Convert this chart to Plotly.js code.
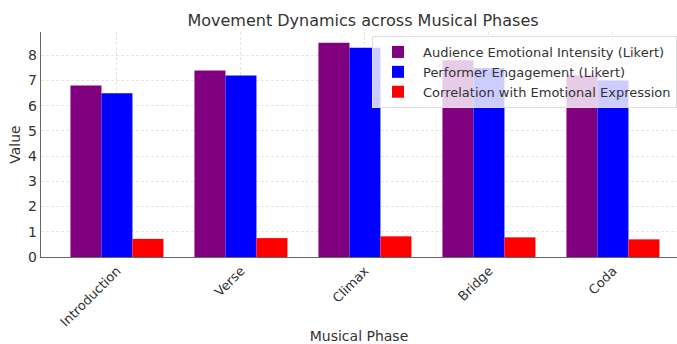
<!DOCTYPE html>
<html>
<head>
<meta charset="utf-8">
<script src="https://cdn.plot.ly/plotly-3.0.1.min.js"></script>
<style>html,body{margin:0;padding:0;background:#fff}#chart{width:677px;height:344px}</style>
</head>
<body>
<div id="chart"></div>
<script>
const phases = ["Introduction", "Verse", "Climax", "Bridge", "Coda"];
const audienceIntensity = [6.8, 7.4, 8.5, 7.8, 7.2];
const performerEngagement = [6.5, 7.2, 8.3, 7.5, 7.0];
const correlation = [0.72, 0.75, 0.82, 0.78, 0.70];
const seriesNames = ["Audience Emotional Intensity (Likert)", "Performer Engagement (Likert)", "Correlation with Emotional Expression"];
const yTicks = [0, 1, 2, 3, 4, 5, 6, 7, 8];

const idx = phases.map((_, i) => i);
const w = 0.25;
function bar(vals, offset, name, color) {
  return {
    type: "bar", x: idx.map(i => i + offset), y: vals, width: w, name: name,
    marker: {color: color, line: {width: 0}}, hoverinfo: "skip"
  };
}
const data = [
  bar(audienceIntensity, -w, seriesNames[0], "#800080"),
  bar(performerEngagement, 0, seriesNames[1], "#0000ff"),
  bar(correlation, w, seriesNames[2], "#ff0000")
];
const plotH = 344 - 32 - 86.5;
const layout = {
  width: 677, height: 344,
  margin: {l: 41, r: 0, t: 32, b: 86.5, autoexpand: false},
  paper_bgcolor: "#fff", plot_bgcolor: "#fff",
  font: {family: "DejaVu Sans, sans-serif", color: "#333", size: 13},
  title: {text: "Movement Dynamics across Musical Phases", x: (363-41)/636, xref: "paper", xanchor: "center",
          y: 1 - 20/344, yanchor: "middle", font: {size: 16, color: "#333"}},
  barmode: "overlay",
  showlegend: true,
  legend: {x: (372-41)/636, xanchor: "left", y: 1 - 4/plotH, yanchor: "top",
           bgcolor: "rgba(255,255,255,0.8)", bordercolor: "#ddd", borderwidth: 1,
           font: {size: 13, color: "#333"}, tracegroupgap: 0, itemwidth: 40},
  xaxis: {
    range: [-0.6125, -0.6125 + 636/124],
    tickmode: "array", tickvals: idx, ticktext: phases, tickangle: -45,
    showgrid: true, gridcolor: "#e6e6e6", griddash: "3px,2px", gridwidth: 1,
    showline: true, linecolor: "#666", linewidth: 1.2, zeroline: false,
    ticks: "", tickfont: {size: 13, color: "#333"},
    title: {text: "Musical Phase", font: {size: 14, color: "#333"}, standoff: 8}
  },
  yaxis: {
    range: [0, 8.925],
    tickmode: "array", tickvals: yTicks, ticktext: yTicks.map(String),
    showgrid: true, gridcolor: "#e6e6e6", griddash: "3px,2px", gridwidth: 1,
    showline: true, linecolor: "#666", linewidth: 1.2, zeroline: false,
    ticks: "", tickfont: {size: 14, color: "#333"},
    title: {text: "Value", font: {size: 14, color: "#333"}, standoff: 4}
  }
};
Plotly.newPlot("chart", data, layout, {displayModeBar: false, staticPlot: true});
</script>
</body>
</html>
